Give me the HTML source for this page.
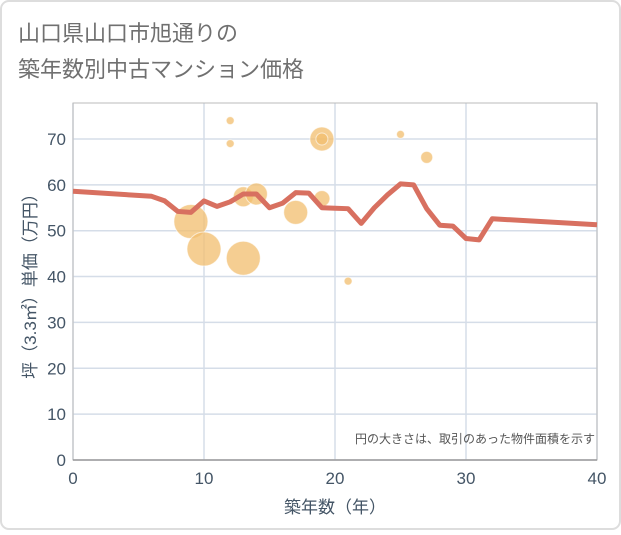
<!DOCTYPE html>
<html><head><meta charset="utf-8"><style>
body{margin:0;background:#fff}
#c{width:621px;height:530px;position:relative;font-family:"Liberation Sans","Noto Sans CJK JP",sans-serif}
</style></head><body>
<div id="c">
<svg id="s" width="621" height="530">
<rect x="1" y="1" width="619" height="528" rx="8" fill="#fff" stroke="#ddd" stroke-width="2"/>
<text x="18" y="41" font-size="22" fill="#707070">山口県山口市旭通りの</text>
<text x="18" y="77" font-size="22" fill="#707070">築年数別中古マンション価格</text>
<g id="grid"></g><g id="bub"></g><g id="ln"></g><g id="ax"></g>
<text x="595" y="443" font-size="12" fill="#555" text-anchor="end">円の大きさは、取引のあった物件面積を示す</text>
<text x="335" y="513" font-size="17" fill="#445566" text-anchor="middle">築年数（年）</text>
<text transform="translate(36,282) rotate(-90)" font-size="17" fill="#445566" text-anchor="middle">坪（3.3㎡）単価（万円）</text>
</svg></div>
<script>
const xTicks=[0,10,20,30,40];
const yTicks=[0,10,20,30,40,50,60,70];
const lineX=[0,6,7,8,9,10,11,12,13,14,15,16,17,18,19,20,21,22,23,24,25,26,27,28,29,30,31,32,40];
const lineY=[58.6,57.5,56.5,54.2,54,56.5,55.3,56.3,58,58,55,56,58.3,58.2,55,54.9,54.8,51.6,55,57.8,60.2,60,54.8,51.2,51,48.3,48,52.6,51.3];
const bubX=[9,10,13,13,14,17,19,19,19,12,12,21,25,27];
const bubY=[52,46,44,57.4,58,54,70,57,70,74,69,39,71,66];
const bubR=[17,17,17,10,11,12,12,8,6,4,4,4,4,6];
const X=v=>73+v*13.1, Y=v=>460-v*4.586;
const NS="http://www.w3.org/2000/svg";
function mk(t,a,p){const e=document.createElementNS(NS,t);for(const k in a)e.setAttribute(k,a[k]);p.appendChild(e);return e;}
const g=document.getElementById('grid'),ax=document.getElementById('ax');
yTicks.forEach(v=>{const l=mk('line',{x1:73,x2:597,y1:Y(v),y2:Y(v),stroke:'#d5dde8','stroke-width':1.5},g);

const t=mk('text',{x:66,y:Y(v)+6,'font-size':17,fill:'#445566','text-anchor':'end'},ax);t.textContent=v;
});
xTicks.forEach(v=>{const l=mk('line',{x1:X(v),x2:X(v),y1:103,y2:460,stroke:'#d5dde8','stroke-width':1.5},g);

const t=mk('text',{x:X(v),y:484,'font-size':17,fill:'#445566','text-anchor':'middle'},ax);t.textContent=v;
});
const fr=mk('rect',{x:73,y:103,width:524,height:357,fill:'none',stroke:'#bbb','stroke-width':1},g);

const xl=mk('line',{x1:73,x2:597,y1:460,y2:460,stroke:'#999','stroke-width':1.5},g);

const b=document.getElementById('bub');
bubX.forEach((v,i)=>{const c=mk('circle',{cx:X(v),cy:Y(bubY[i]),r:bubR[i],fill:'rgba(242,190,110,0.75)',stroke:'rgba(255,255,255,0.6)','stroke-width':1},b);
});
const p=mk('polyline',{points:lineX.map((v,i)=>X(v)+','+Y(lineY[i])).join(' '),fill:'none',stroke:'#d87060','stroke-width':5,'stroke-linejoin':'round'},document.getElementById('ln'));

</script>
</body></html>
